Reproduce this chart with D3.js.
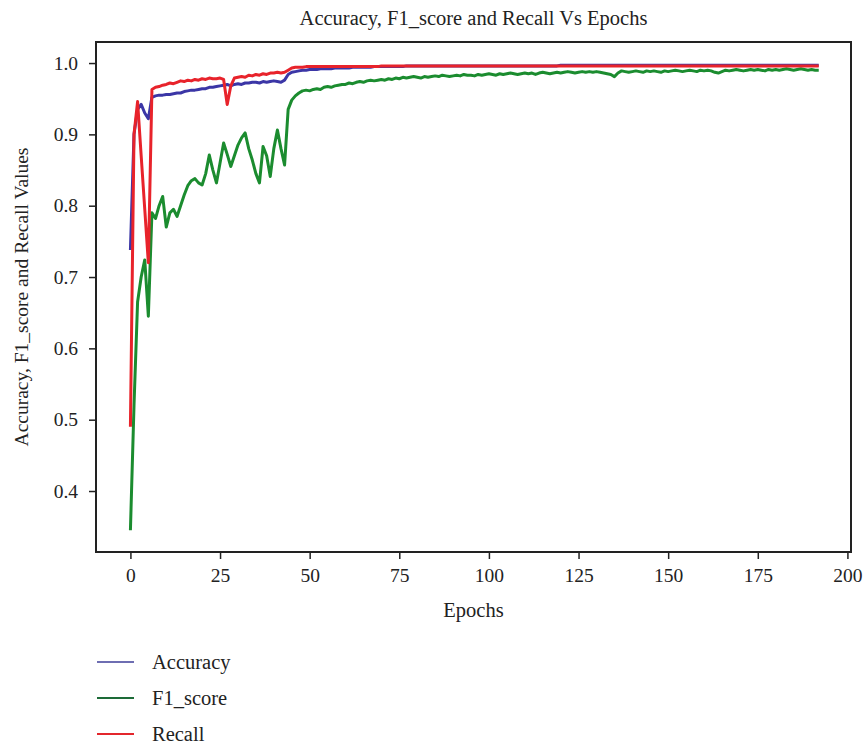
<!DOCTYPE html>
<html>
<head>
<meta charset="utf-8">
<script src="https://cdn.jsdelivr.net/npm/d3@7"></script>
<style>
  body { margin: 0; background: #fff; }
  svg { font-family: "Liberation Serif", "DejaVu Serif", serif; }
</style>
</head>
<body>
<div id="chart"></div>
<script>
// values, one per epoch (0..192)
let accuracy = [
  0.738, 0.900, 0.935, 0.942, 0.930, 0.922, 0.952, 0.954, 0.955, 0.955,
  0.956, 0.956, 0.957, 0.958, 0.958, 0.960, 0.961, 0.962, 0.962, 0.963,
  0.964, 0.964, 0.966, 0.966, 0.967, 0.968, 0.969, 0.970, 0.968, 0.970,
  0.971, 0.970, 0.972, 0.972, 0.973, 0.973, 0.972, 0.974, 0.973, 0.974,
  0.975, 0.974, 0.973, 0.976, 0.984, 0.987, 0.988, 0.989, 0.990, 0.990,
  0.991, 0.991, 0.991, 0.992, 0.992, 0.992, 0.992, 0.993, 0.993, 0.993,
  0.993, 0.993, 0.994, 0.994, 0.994, 0.994, 0.994, 0.994, 0.995, 0.995,
  0.995, 0.995, 0.995, 0.995, 0.995, 0.995, 0.995, 0.996, 0.996, 0.996,
  0.996, 0.996, 0.996, 0.996, 0.996, 0.996, 0.996, 0.996, 0.996, 0.996,
  0.996, 0.996, 0.996, 0.996, 0.996, 0.996, 0.996, 0.996, 0.996, 0.996,
  0.996, 0.996, 0.996, 0.996, 0.996, 0.996, 0.996, 0.996, 0.996, 0.996,
  0.996, 0.996, 0.996, 0.996, 0.996, 0.996, 0.996, 0.996, 0.996, 0.996,
  0.997, 0.997, 0.997, 0.997, 0.997, 0.997, 0.997, 0.997, 0.997, 0.997,
  0.997, 0.997, 0.997, 0.997, 0.997, 0.997, 0.997, 0.997, 0.997, 0.997,
  0.997, 0.997, 0.997, 0.997, 0.997, 0.997, 0.997, 0.997, 0.997, 0.997,
  0.997, 0.997, 0.997, 0.997, 0.997, 0.997, 0.997, 0.997, 0.997, 0.997,
  0.997, 0.997, 0.997, 0.997, 0.997, 0.997, 0.997, 0.997, 0.997, 0.997,
  0.997, 0.997, 0.997, 0.997, 0.997, 0.997, 0.997, 0.997, 0.997, 0.997,
  0.997, 0.997, 0.997, 0.997, 0.997, 0.997, 0.997, 0.997, 0.997, 0.997,
  0.997, 0.997, 0.997
];

let f1Score = [
  0.345, 0.520, 0.665, 0.700, 0.724, 0.645, 0.790, 0.782, 0.800, 0.813,
  0.770, 0.790, 0.795, 0.785, 0.800, 0.815, 0.828, 0.835, 0.838, 0.832,
  0.829, 0.845, 0.871, 0.850, 0.832, 0.860, 0.888, 0.872, 0.855, 0.870,
  0.885, 0.895, 0.902, 0.880, 0.864, 0.845, 0.832, 0.883, 0.870, 0.841,
  0.880, 0.906, 0.880, 0.857, 0.935, 0.948, 0.954, 0.958, 0.961, 0.962,
  0.961, 0.963, 0.964, 0.963, 0.966, 0.967, 0.966, 0.968, 0.969, 0.970,
  0.970, 0.972, 0.971, 0.973, 0.974, 0.973, 0.975, 0.976, 0.975, 0.976,
  0.977, 0.976, 0.978, 0.977, 0.979, 0.978, 0.980, 0.979, 0.980, 0.981,
  0.980, 0.979, 0.981, 0.980, 0.981, 0.982, 0.981, 0.983, 0.982, 0.981,
  0.982, 0.983, 0.982, 0.984, 0.983, 0.983, 0.982, 0.984, 0.983, 0.984,
  0.985, 0.984, 0.983, 0.985, 0.984, 0.985, 0.986, 0.985, 0.984, 0.985,
  0.986, 0.985, 0.986, 0.984, 0.986, 0.987, 0.986, 0.985, 0.986, 0.987,
  0.986, 0.987, 0.988, 0.987, 0.986, 0.987, 0.988, 0.987, 0.988, 0.987,
  0.988, 0.987, 0.986, 0.985, 0.984, 0.981, 0.986, 0.989, 0.988, 0.987,
  0.988, 0.989, 0.988, 0.987, 0.989, 0.988, 0.989, 0.988, 0.987, 0.989,
  0.988, 0.989, 0.990, 0.989, 0.988, 0.989, 0.990, 0.989, 0.988, 0.990,
  0.989, 0.990, 0.989, 0.987, 0.986, 0.988, 0.990, 0.989, 0.990, 0.991,
  0.990, 0.989, 0.990, 0.991, 0.990, 0.991, 0.990, 0.989, 0.991, 0.990,
  0.991, 0.990, 0.991, 0.992, 0.991, 0.990, 0.991, 0.992, 0.991, 0.990,
  0.991, 0.990, 0.990
];

let recall = [
  0.490, 0.900, 0.946, 0.870, 0.795, 0.720, 0.963, 0.966, 0.967, 0.969,
  0.970, 0.972, 0.971, 0.973, 0.975, 0.974, 0.976, 0.975, 0.977, 0.976,
  0.978, 0.977, 0.979, 0.978, 0.978, 0.979, 0.977, 0.942, 0.968, 0.979,
  0.980, 0.981, 0.980, 0.983, 0.982, 0.984, 0.983, 0.985, 0.984, 0.986,
  0.986, 0.987, 0.986, 0.987, 0.990, 0.993, 0.994, 0.994, 0.994, 0.995,
  0.995, 0.995, 0.995, 0.995, 0.995, 0.995, 0.995, 0.995, 0.995, 0.995,
  0.995, 0.995, 0.995, 0.995, 0.995, 0.995, 0.995, 0.995, 0.995, 0.995,
  0.996, 0.996, 0.996, 0.996, 0.996, 0.996, 0.996, 0.996, 0.996, 0.996,
  0.996, 0.996, 0.996, 0.996, 0.996, 0.996, 0.996, 0.996, 0.996, 0.996,
  0.996, 0.996, 0.996, 0.996, 0.996, 0.996, 0.996, 0.996, 0.996, 0.996,
  0.996, 0.996, 0.996, 0.996, 0.996, 0.996, 0.996, 0.996, 0.996, 0.996,
  0.996, 0.996, 0.996, 0.996, 0.996, 0.996, 0.996, 0.996, 0.996, 0.996,
  0.996, 0.996, 0.996, 0.996, 0.996, 0.996, 0.996, 0.996, 0.996, 0.996,
  0.996, 0.996, 0.996, 0.996, 0.996, 0.996, 0.996, 0.996, 0.996, 0.996,
  0.996, 0.996, 0.996, 0.996, 0.996, 0.996, 0.996, 0.996, 0.996, 0.996,
  0.996, 0.996, 0.996, 0.996, 0.996, 0.996, 0.996, 0.996, 0.996, 0.996,
  0.996, 0.996, 0.996, 0.996, 0.996, 0.996, 0.996, 0.996, 0.996, 0.996,
  0.996, 0.996, 0.996, 0.996, 0.996, 0.996, 0.996, 0.996, 0.996, 0.996,
  0.996, 0.996, 0.996, 0.996, 0.996, 0.996, 0.996, 0.996, 0.996, 0.996,
  0.996, 0.996, 0.996
];

let xTicks = [0, 25, 50, 75, 100, 125, 150, 175, 200];
let yTicks = [0.4, 0.5, 0.6, 0.7, 0.8, 0.9, 1.0];

let series = [
  {name: "Accuracy", values: accuracy, color: "#3b36a6", legendColor: "#6e6eb2"},
  {name: "F1_score", values: f1Score, color: "#1b8c2f", legendColor: "#1d6b38"},
  {name: "Recall", values: recall, color: "#e8232b", legendColor: "#e3262c"}
];

let width = 867;
let height = 746;
let box = {left: 96, right: 851, top: 42, bottom: 552};

let svg = d3.select("#chart").append("svg")
    .attr("width", width)
    .attr("height", height);

let x = d3.scaleLinear().domain([-9.6, 201]).range([box.left, box.right]);
let y = d3.scaleLinear().domain([0.3145, 1.0295]).range([box.bottom, box.top]);

// lines
let line = d3.line()
    .x((d, i) => x(i))
    .y(d => y(d));

svg.append("g")
    .selectAll("path")
    .data(series)
    .join("path")
        .attr("d", d => line(d.values))
        .attr("fill", "none")
        .attr("stroke", d => d.color)
        .attr("stroke-width", 3)
        .attr("stroke-linejoin", "round");

// axes
let xAxis = svg.append("g")
    .attr("transform", `translate(0,${box.bottom})`)
    .call(d3.axisBottom(x).tickValues(xTicks).tickSize(7).tickPadding(9).tickFormat(d3.format("d")));

let yAxis = svg.append("g")
    .attr("transform", `translate(${box.left},0)`)
    .call(d3.axisLeft(y).tickValues(yTicks).tickSize(7).tickPadding(11).tickFormat(d3.format(".1f")));

[xAxis, yAxis].forEach(a => {
    a.select(".domain").remove();
    a.selectAll(".tick line").attr("stroke", "#222").attr("stroke-width", 1.5);
    a.selectAll(".tick text")
        .attr("font-family", "Liberation Serif, serif")
        .attr("font-size", 19.5)
        .attr("fill", "#222");
});

// frame
svg.append("rect")
    .attr("x", box.left)
    .attr("y", box.top)
    .attr("width", box.right - box.left)
    .attr("height", box.bottom - box.top)
    .attr("fill", "none")
    .attr("stroke", "#222")
    .attr("stroke-width", 2);

// title + labels
svg.append("text")
    .attr("x", (box.left + box.right) / 2)
    .attr("y", 25)
    .attr("text-anchor", "middle")
    .attr("font-size", 20.5)
    .attr("fill", "#222")
    .text("Accuracy, F1_score and Recall Vs Epochs");

svg.append("text")
    .attr("x", (box.left + box.right) / 2)
    .attr("y", 617)
    .attr("text-anchor", "middle")
    .attr("font-size", 20.5)
    .attr("fill", "#222")
    .text("Epochs");

svg.append("text")
    .attr("transform", `translate(28,${(box.top + box.bottom) / 2}) rotate(-90)`)
    .attr("text-anchor", "middle")
    .attr("font-size", 19.5)
    .attr("fill", "#222")
    .text("Accuracy, F1_score and Recall Values");

// legend below plot
let legend = svg.append("g")
    .selectAll("g")
    .data(series)
    .join("g")
        .attr("transform", (d, i) => `translate(97,${662 + i * 36})`);

legend.append("line")
    .attr("x1", 0).attr("x2", 37)
    .attr("stroke", d => d.legendColor)
    .attr("stroke-width", 2);

legend.append("text")
    .attr("x", 55)
    .attr("y", 7)
    .attr("font-size", 20.5)
    .attr("fill", "#222")
    .text(d => d.name);
</script>
</body>
</html>
